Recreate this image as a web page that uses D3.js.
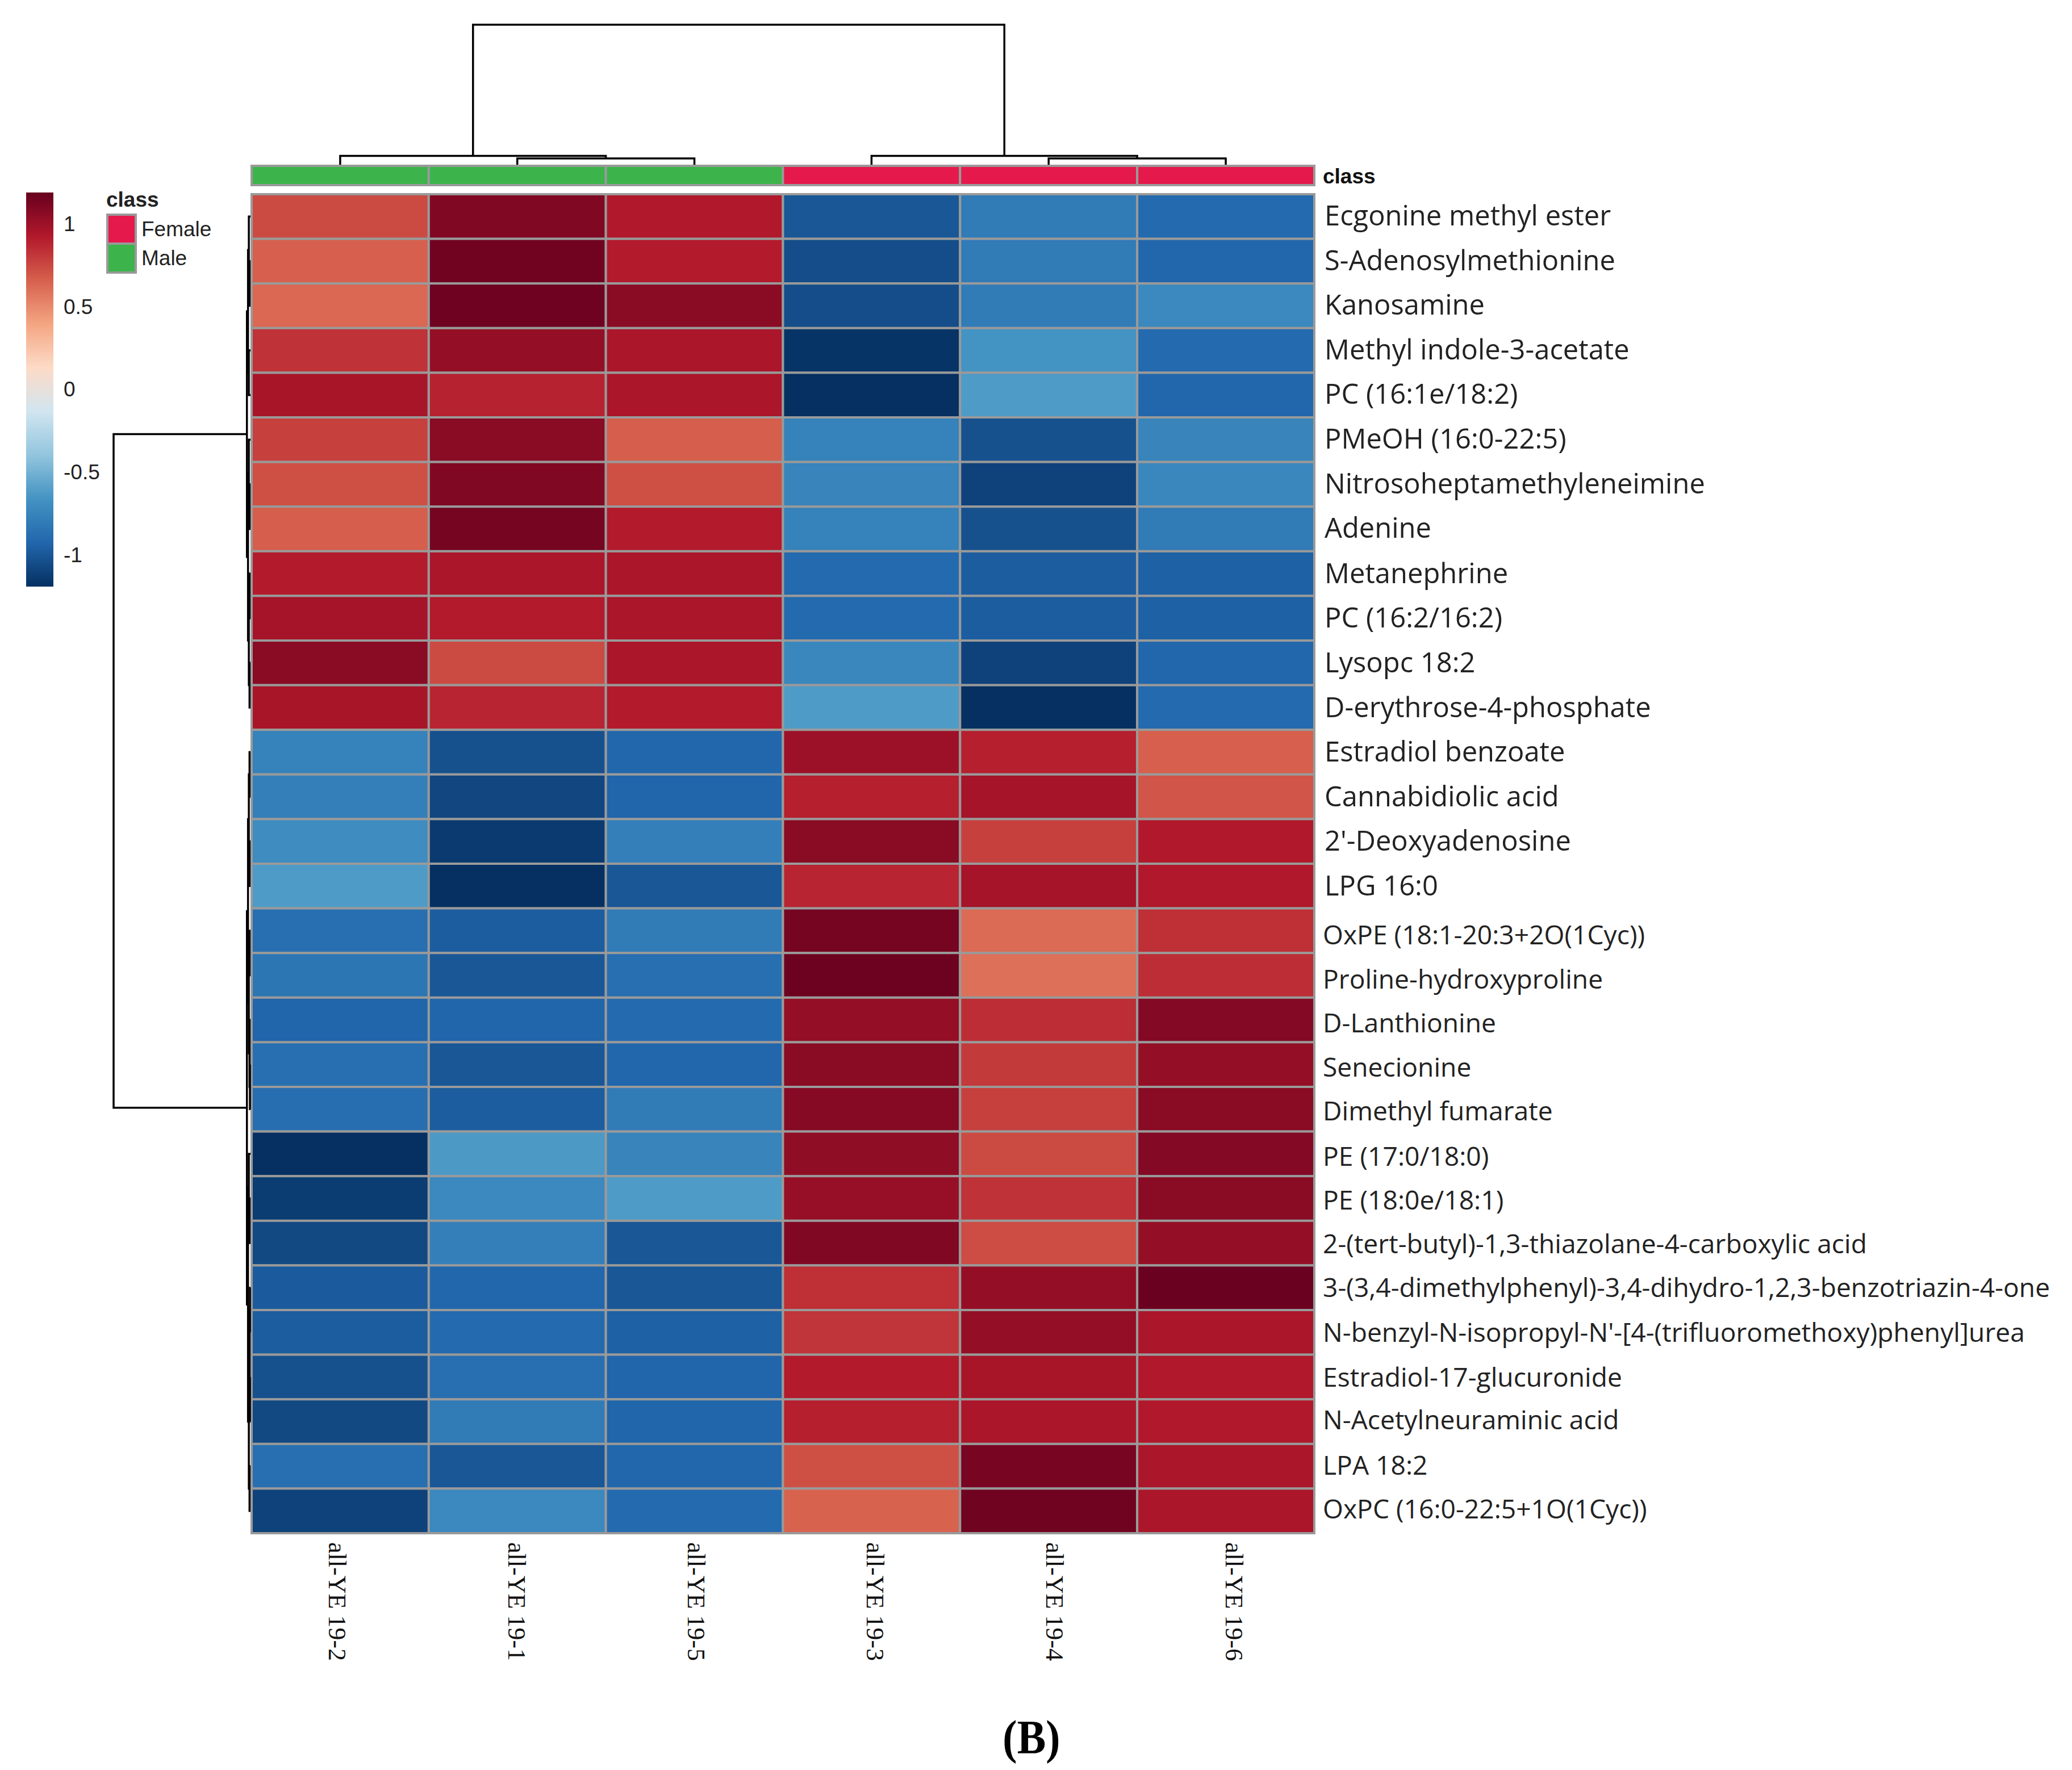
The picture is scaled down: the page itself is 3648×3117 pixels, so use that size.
<!DOCTYPE html>
<html>
<head>
<meta charset="utf-8">
<title>Clustered heatmap, all-YE 19</title>
<script src="https://d3js.org/d3.v7.min.js"></script>
<style>
  html, body { margin: 0; padding: 0; background: #fff; }
  .legend text { font-family: "Liberation Sans", Arial, sans-serif; font-size: 37px; fill: #222; }
  .rowlabels text { font-family: "Open Sans", sans-serif; fill: #222; }
  .collabels text { font-family: "Liberation Serif", serif; font-size: 44px; fill: #111; }
  .tree path { fill: none; stroke: #000; stroke-width: 3.5px; }
</style>
</head>
<body>
<script>
var samples = ["all-YE 19-2", "all-YE 19-1", "all-YE 19-5", "all-YE 19-3", "all-YE 19-4", "all-YE 19-6"];
var sampleClass = ["Male", "Male", "Male", "Female", "Female", "Female"];

var metabolites = [
  "Ecgonine methyl ester", "S-Adenosylmethionine", "Kanosamine", "Methyl indole-3-acetate",
  "PC (16:1e/18:2)", "PMeOH (16:0-22:5)", "Nitrosoheptamethyleneimine", "Adenine",
  "Metanephrine", "PC (16:2/16:2)", "Lysopc 18:2", "D-erythrose-4-phosphate",
  "Estradiol benzoate", "Cannabidiolic acid", "2'-Deoxyadenosine", "LPG 16:0",
  "OxPE (18:1-20:3+2O(1Cyc))", "Proline-hydroxyproline", "D-Lanthionine", "Senecionine",
  "Dimethyl fumarate", "PE (17:0/18:0)", "PE (18:0e/18:1)", "2-(tert-butyl)-1,3-thiazolane-4-carboxylic acid",
  "3-(3,4-dimethylphenyl)-3,4-dihydro-1,2,3-benzotriazin-4-one",
  "N-benzyl-N-isopropyl-N'-[4-(trifluoromethoxy)phenyl]urea",
  "Estradiol-17-glucuronide", "N-Acetylneuraminic acid", "LPA 18:2", "OxPC (16:0-22:5+1O(1Cyc))"
];

// one row per metabolite, columns in the order of samples
var values = [
  [0.74, 1.10, 0.93, -1.00, -0.80, -0.90],
  [0.66, 1.155, 0.92, -1.05, -0.80, -0.92],
  [0.63, 1.165, 1.07, -1.05, -0.80, -0.72],
  [0.83, 1.03, 0.95, -1.17, -0.66, -0.90],
  [0.96, 0.89, 0.95, -1.19, -0.62, -0.92],
  [0.78, 1.07, 0.67, -0.76, -1.03, -0.75],
  [0.72, 1.10, 0.72, -0.75, -1.10, -0.73],
  [0.67, 1.14, 0.92, -0.76, -1.03, -0.80],
  [0.92, 0.95, 0.95, -0.90, -0.97, -0.95],
  [0.97, 0.92, 0.95, -0.90, -0.97, -0.95],
  [1.07, 0.74, 0.95, -0.73, -1.10, -0.92],
  [0.96, 0.88, 0.92, -0.62, -1.19, -0.90],
  [-0.76, -1.03, -0.92, 1.00, 0.90, 0.66],
  [-0.78, -1.08, -0.93, 0.90, 0.97, 0.70],
  [-0.70, -1.14, -0.78, 1.07, 0.78, 0.93],
  [-0.62, -1.19, -1.00, 0.88, 0.97, 0.93],
  [-0.87, -0.97, -0.80, 1.14, 0.62, 0.84],
  [-0.83, -1.00, -0.87, 1.17, 0.60, 0.85],
  [-0.93, -0.93, -0.90, 1.03, 0.85, 1.09],
  [-0.87, -1.00, -0.92, 1.07, 0.80, 1.03],
  [-0.88, -0.97, -0.80, 1.08, 0.78, 1.07],
  [-1.19, -0.63, -0.75, 1.05, 0.74, 1.09],
  [-1.13, -0.72, -0.62, 1.02, 0.83, 1.07],
  [-1.07, -0.78, -1.00, 1.10, 0.73, 1.03],
  [-0.98, -0.92, -1.00, 0.84, 1.03, 1.175],
  [-0.97, -0.90, -0.95, 0.82, 1.03, 0.95],
  [-1.03, -0.87, -0.93, 0.92, 0.96, 0.93],
  [-1.07, -0.80, -0.93, 0.90, 0.95, 0.93],
  [-0.87, -1.00, -0.92, 0.72, 1.13, 0.95],
  [-1.10, -0.72, -0.90, 0.65, 1.16, 0.95]
];

// dendrograms: [height, left, right], a bare number is a leaf index
var colTree = [100, [6.3, 0, [4.5, 1, 2]], [6.3, 3, [4.5, 4, 5]]];
var rowTree = [100,
  [2.6,
    [1.8, [1.2, 0, [0.7, 1, 2]], [1.2, 3, 4]],
    [1.8, [1.2, 5, [0.7, 6, 7]], [1.2, [0.7, 8, 9], [0.7, 10, 11]]]],
  [2.6,
    [1.8, [1.2, [0.7, 12, 13], [0.7, 14, 15]], [1.2, [0.7, 16, 17], [0.7, 18, [0.4, 19, 20]]]],
    [1.8, [1.2, 21, [0.7, 22, 23]],
      [1.2, [0.7, [0.4, 24, 25], [0.4, 26, 27]], [0.7, 28, 29]]]]
];

var classNames = ["Female", "Male"];
var classColors = ["#e5194b", "#3cb44b"];
var paletteColors = ["#053061", "#2166ac", "#4393c3", "#92c5de", "#d1e5f0", "#fddbc7", "#f4a582", "#d6604d", "#b2182b", "#67001f"];
var colorTicks = [-1, -0.5, 0, 0.5, 1];
var valueLimit = 1.19;

// the row labels sit a little off their cells in the original figure
var labelShift = [0, 0, 0, 0, 0, 0, 0, 0, 1, 1, 1, 1, 1, 1, 1, 1, 9, 9, 7, 7, 5, 6, 5, 3, 2, 2, 2, -1, 0, -1];

var gridColor = "#9a9a9a";
var heat = { left: 443, right: 2314, top: 342, bottom: 2700 };

var svg = d3.select("body").append("svg")
  .attr("width", 3648).attr("height", 3117)
  .style("display", "block");

var x = d3.scaleBand().domain(d3.range(samples.length)).range([heat.left, heat.right]);
var y = d3.scaleBand().domain(d3.range(metabolites.length)).range([heat.top, heat.bottom]);

var color = d3.scaleLinear()
  .domain(paletteColors.map(function(d, i) { return -valueLimit + i * 2 * valueLimit / (paletteColors.length - 1); }))
  .range(paletteColors)
  .interpolate(d3.interpolateRgb);

var classColor = d3.scaleOrdinal().domain(classNames).range(classColors);

// heatmap cells
var rows = svg.append("g").attr("class", "cells").selectAll("g")
  .data(values).enter().append("g");

rows.selectAll("rect")
  .data(function(row, i) { return row.map(function(v, j) { return { v: v, i: i, j: j }; }); })
  .enter().append("rect")
  .attr("x", function(d) { return x(d.j); })
  .attr("y", function(d) { return y(d.i); })
  .attr("width", x.bandwidth())
  .attr("height", y.bandwidth())
  .attr("fill", function(d) { return color(d.v); })
  .attr("stroke", gridColor)
  .attr("stroke-width", 4);

// class annotation strip
svg.append("g").selectAll("rect")
  .data(sampleClass).enter().append("rect")
  .attr("x", function(d, j) { return x(j); })
  .attr("y", 292)
  .attr("width", x.bandwidth())
  .attr("height", 34)
  .attr("fill", function(d) { return classColor(d); })
  .attr("stroke", gridColor)
  .attr("stroke-width", 4);

svg.append("text")
  .attr("x", 2329).attr("y", 323)
  .style("font", "bold 37px 'Liberation Sans', Arial, sans-serif")
  .style("fill", "#111")
  .text("class");

// row and column labels
var rowAxis = d3.axisRight(y).tickSize(0).tickPadding(15)
  .tickFormat(function(i) { return metabolites[i]; });
svg.append("g").attr("class", "rowlabels")
  .attr("transform", "translate(" + heat.right + ",0)")
  .call(rowAxis)
  .call(function(g) { g.select(".domain").remove(); })
  .selectAll("text")
  .style("font-size", function(i) { return i < 16 ? "48.9px" : "46.2px"; })
  .attr("x", function(i) { return i < 16 ? 18 : 15; })
  .attr("y", function(i) { return labelShift[i]; });

var colLabelX = d3.scalePoint().domain(samples).range([593, 2172]);
svg.append("g").attr("class", "collabels").selectAll("text")
  .data(samples).enter().append("text")
  .attr("transform", function(d) {
    return "translate(" + colLabelX(d) + ",2716) rotate(90)";
  })
  .attr("dy", "0.32em")
  .text(function(d) { return d; });

// dendrograms
function leafPos(node, scale) {
  if (typeof node === "number") return scale(node) + scale.bandwidth() / 2;
  return (leafPos(node[1], scale) + leafPos(node[2], scale)) / 2;
}

function branches(node, scale, out) {
  if (typeof node === "number") return out;
  out.push({ h: node[0], a: leafPos(node[1], scale), b: leafPos(node[2], scale),
             ha: typeof node[1] === "number" ? 0 : node[1][0],
             hb: typeof node[2] === "number" ? 0 : node[2][0] });
  branches(node[1], scale, out);
  branches(node[2], scale, out);
  return out;
}

var colHeight = d3.scaleLinear().domain([0, 100]).range([290, 43.5]);
var rowHeight = d3.scaleLinear().domain([0, 100]).range([441, 200]);

svg.append("g").attr("class", "tree").selectAll("path")
  .data(branches(colTree, x, [])).enter().append("path")
  .attr("d", function(d) {
    return "M" + d.a + "," + colHeight(d.ha) + "V" + colHeight(d.h) + "H" + d.b + "V" + colHeight(d.hb);
  });

svg.append("g").attr("class", "tree").selectAll("path")
  .data(branches(rowTree, y, [])).enter().append("path")
  .attr("d", function(d) {
    return "M" + rowHeight(d.ha) + "," + d.a + "H" + rowHeight(d.h) + "V" + d.b + "H" + rowHeight(d.hb);
  });

// colour key
var legend = svg.append("g").attr("class", "legend");
var keyScale = d3.scaleLinear().domain([-valueLimit, valueLimit]).range([1033, 339]);

var grad = svg.append("defs").append("linearGradient")
  .attr("id", "key").attr("x1", 0).attr("x2", 0).attr("y1", 1).attr("y2", 0);
grad.selectAll("stop").data(paletteColors).enter().append("stop")
  .attr("offset", function(d, i) { return i / (paletteColors.length - 1); })
  .attr("stop-color", function(d) { return d; });

legend.append("rect")
  .attr("x", 46).attr("y", keyScale(valueLimit))
  .attr("width", 48).attr("height", keyScale(-valueLimit) - keyScale(valueLimit))
  .attr("fill", "url(#key)");

var keyAxis = d3.axisRight(keyScale).tickValues(colorTicks).tickSize(0).tickPadding(18)
  .tickFormat(function(d) { return String(d); });
legend.append("g").attr("transform", "translate(94,0)")
  .call(keyAxis)
  .call(function(g) { g.select(".domain").remove(); });

// class legend
legend.append("text")
  .attr("x", 187).attr("y", 364)
  .style("font-weight", "bold")
  .text("class");

var swatch = legend.selectAll("g.swatch").data(classNames).enter().append("g").attr("class", "swatch");
swatch.append("rect")
  .attr("x", 189).attr("y", function(d, i) { return 378 + i * 51; })
  .attr("width", 50).attr("height", 51)
  .attr("fill", function(d) { return classColor(d); })
  .attr("stroke", gridColor)
  .attr("stroke-width", 4);
swatch.append("text")
  .attr("x", 249).attr("y", function(d, i) { return 403 + i * 51; })
  .attr("dy", "0.35em")
  .text(function(d) { return d; });

// panel letter, taller in the original
svg.append("text")
  .attr("transform", "translate(1816,3088) scale(1,1.12)")
  .attr("text-anchor", "middle")
  .style("font", "bold 76px 'Liberation Serif', serif")
  .style("fill", "#000")
  .text("(B)");
</script>
</body>
</html>
